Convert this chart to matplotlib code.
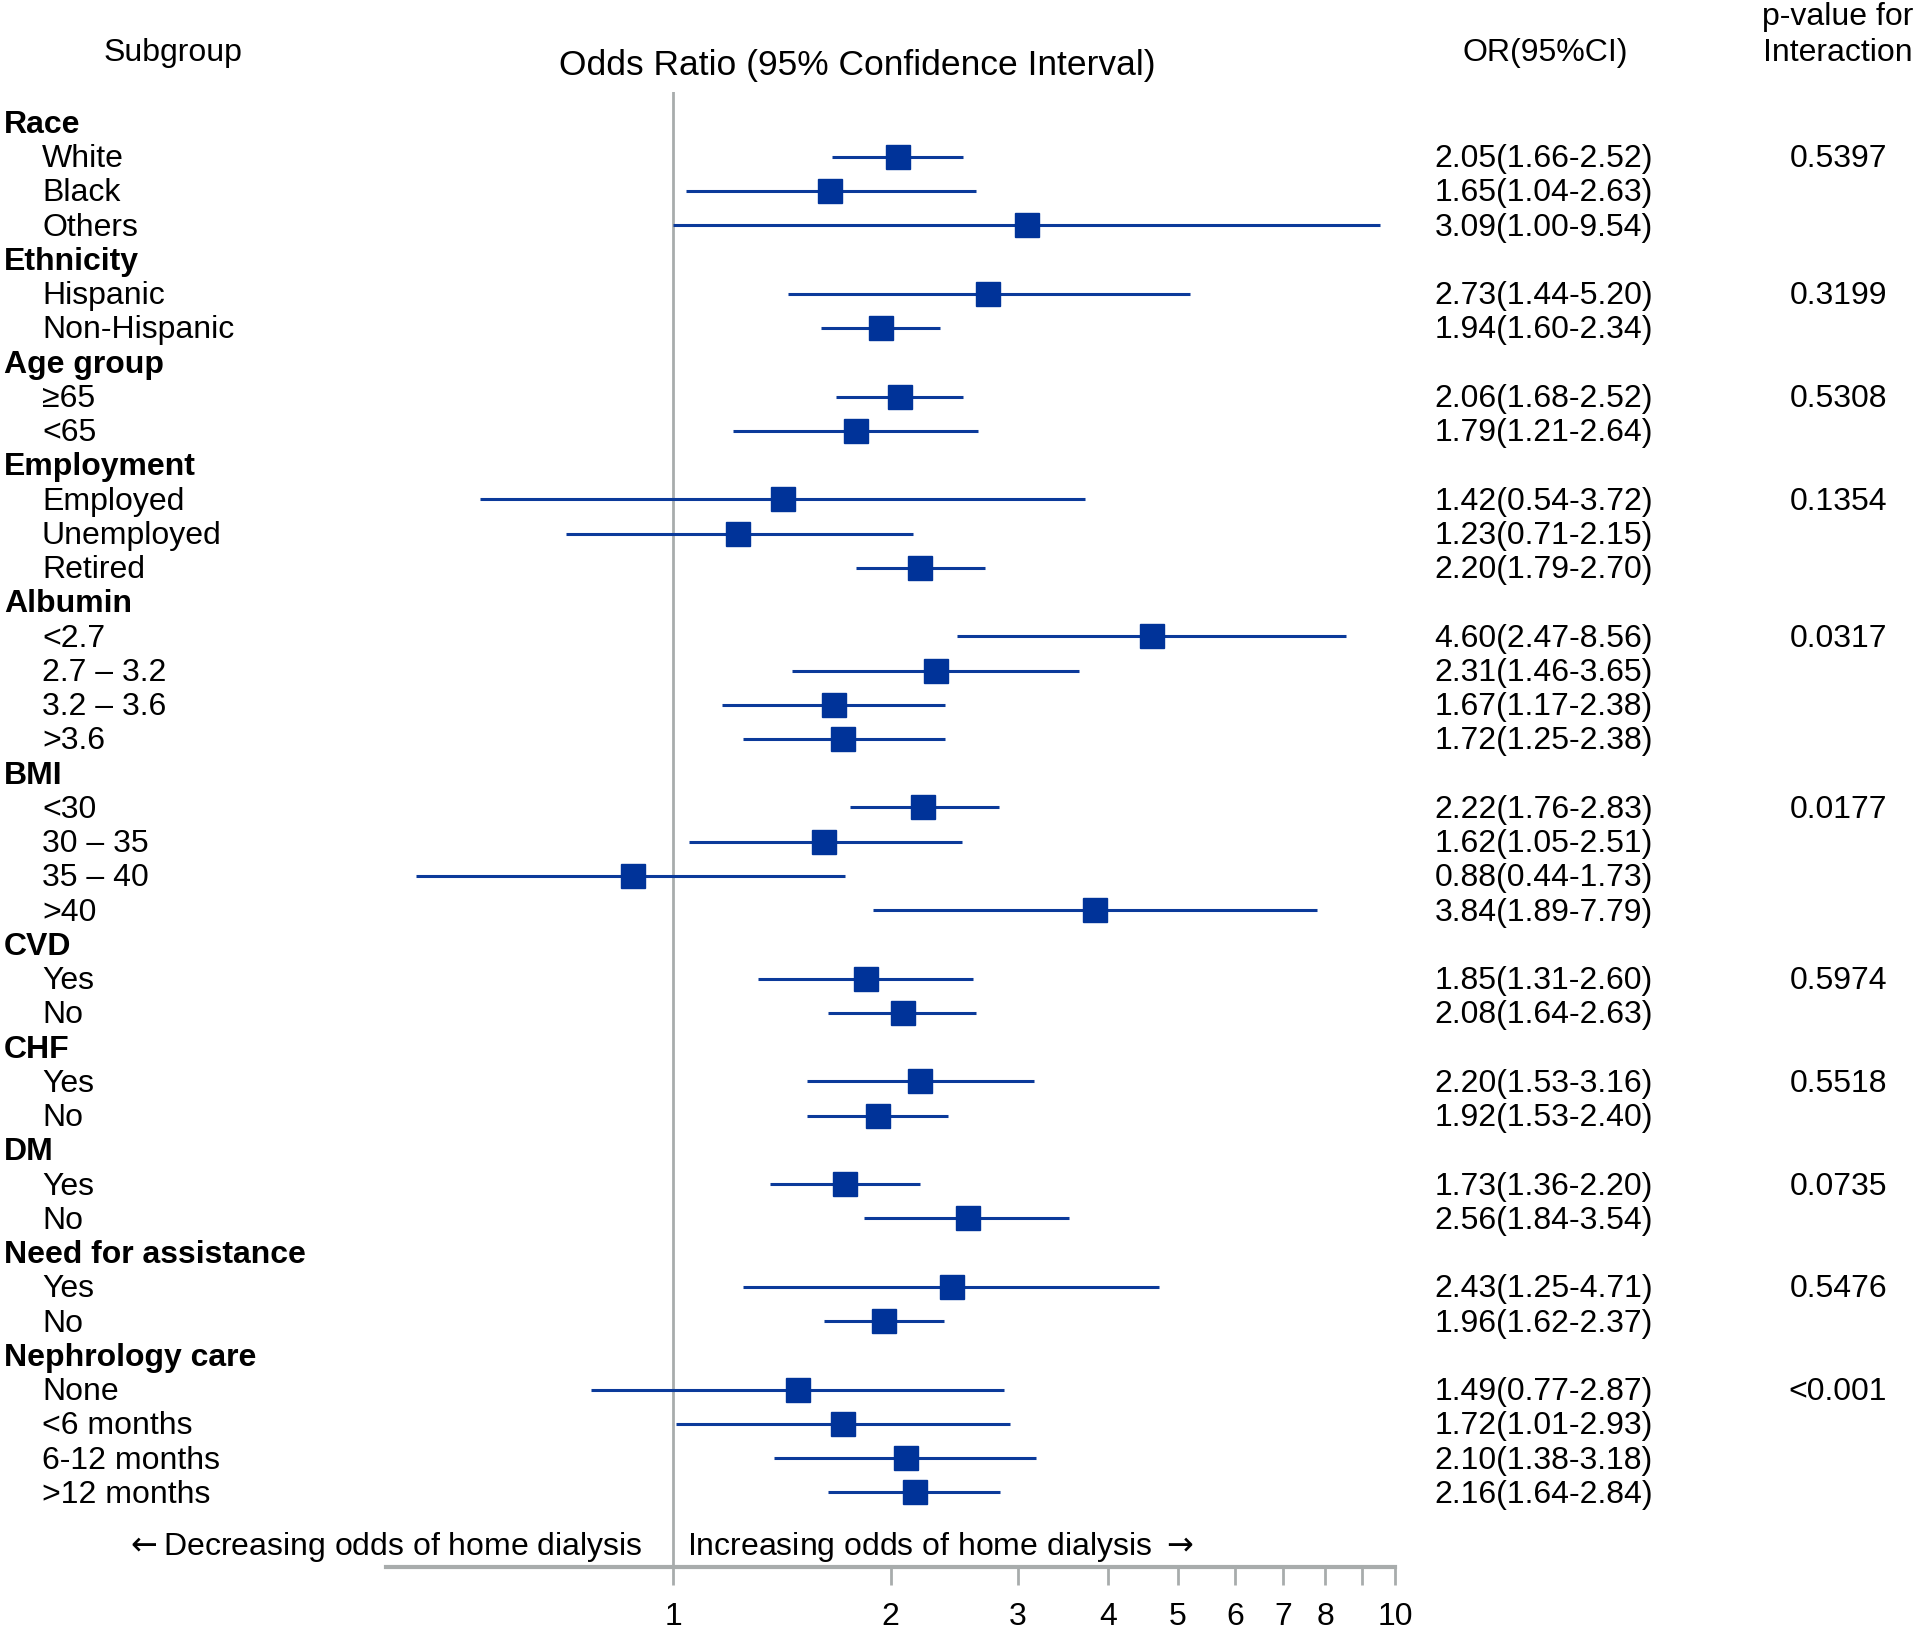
import numpy as np
import matplotlib.pyplot as plt
import matplotlib.transforms as mtransforms

plt.rcParams['font.family'] = ['Liberation Sans', 'DejaVu Sans']

# subgroup table
groups = ['Race', 'Ethnicity', 'Age group', 'Employment', 'Albumin', 'BMI',
          'CVD', 'CHF', 'DM', 'Need for assistance', 'Nephrology care']
subgroups = [['White', 'Black', 'Others'],
             ['Hispanic', 'Non-Hispanic'],
             ['\u226565', '<65'],
             ['Employed', 'Unemployed', 'Retired'],
             ['<2.7', '2.7 \u2013 3.2', '3.2 \u2013 3.6', '>3.6'],
             ['<30', '30 \u2013 35', '35 \u2013 40', '>40'],
             ['Yes', 'No'],
             ['Yes', 'No'],
             ['Yes', 'No'],
             ['Yes', 'No'],
             ['None', '<6 months', '6-12 months', '>12 months']]
odds = [2.05, 1.65, 3.09, 2.73, 1.94, 2.06, 1.79, 1.42, 1.23, 2.20,
        4.60, 2.31, 1.67, 1.72, 2.22, 1.62, 0.88, 3.84, 1.85, 2.08,
        2.20, 1.92, 1.73, 2.56, 2.43, 1.96, 1.49, 1.72, 2.10, 2.16]
ci_low = [1.66, 1.04, 1.00, 1.44, 1.60, 1.68, 1.21, 0.54, 0.71, 1.79,
          2.47, 1.46, 1.17, 1.25, 1.76, 1.05, 0.44, 1.89, 1.31, 1.64,
          1.53, 1.53, 1.36, 1.84, 1.25, 1.62, 0.77, 1.01, 1.38, 1.64]
ci_high = [2.52, 2.63, 9.54, 5.20, 2.34, 2.52, 2.64, 3.72, 2.15, 2.70,
           8.56, 3.65, 2.38, 2.38, 2.83, 2.51, 1.73, 7.79, 2.60, 2.63,
           3.16, 2.40, 2.20, 3.54, 4.71, 2.37, 2.87, 2.93, 3.18, 2.84]
p_interaction = ['0.5397', '0.3199', '0.5308', '0.1354', '0.0317', '0.0177',
                 '0.5974', '0.5518', '0.0735', '0.5476', '<0.001']
ticks = [1, 2, 3, 4, 5, 6, 7, 8, 9, 10]
tick_labels = ['1', '2', '3', '4', '5', '6', '7', '8', '', '10']

W, H = 1920, 1628
blue = '#0b3a9a'
grey = '#a8acac'
fs = 23
dy = 0.07  # small nudge so text sits level with the markers

fig = plt.figure(figsize=(W / 100, H / 100), dpi=100)
ax = fig.add_axes([386 / W, 1 - 1567 / H, (1395 - 386) / W, (1567 - 92) / H])
trans = mtransforms.blended_transform_factory(fig.transFigure, ax.transData)

# build the rows
row = 0
k = 0
ys = []
for g, subs, p in zip(groups, subgroups, p_interaction):
    fig.text(4 / W, row + dy, g, transform=trans, fontsize=fs, fontweight='bold',
             va='center', ha='left')
    row += 1
    for j, s in enumerate(subs):
        fig.text(42 / W, row + dy, s, transform=trans, fontsize=fs, va='center', ha='left')
        fig.text(1653 / W, row + dy, f'{odds[k]:.2f}({ci_low[k]:.2f}-{ci_high[k]:.2f})',
                 transform=trans, fontsize=fs, va='center', ha='right')
        if j == 0:
            fig.text(1887 / W, row + dy, p, transform=trans, fontsize=fs,
                     va='center', ha='right')
        ys.append(row)
        row += 1
        k += 1
ys = np.array(ys)

ax.hlines(ys, ci_low, ci_high, color=blue, lw=2.2, zorder=3)
ax.plot(odds, ys, 's', ms=17, color='#003399', zorder=4)
ax.axvline(1, color=grey, lw=2, zorder=1)

ax.set_xscale('log')
ax.set_xlim(0.4, 10)
ax.set_ylim(42.18, -0.894)
for s in ['top', 'right', 'left']:
    ax.spines[s].set_visible(False)
ax.spines['bottom'].set_color(grey)
ax.spines['bottom'].set_linewidth(3)
ax.set_yticks([])
ax.set_xticks(ticks)
ax.set_xticklabels(tick_labels)
ax.minorticks_off()
ax.tick_params(axis='x', which='major', length=13, width=2, color=grey,
               labelsize=fs, pad=12)
ax.patch.set_visible(False)

# headers
fig.text(173 / W, 1 - 53 / H, 'Subgroup', fontsize=fs, ha='center', va='center')
fig.text(857 / W, 1 - 65 / H, 'Odds Ratio (95% Confidence Interval)', fontsize=25.5,
         ha='center', va='center')
fig.text(1545 / W, 1 - 53 / H, 'OR(95%CI)', fontsize=fs, ha='center', va='center')
fig.text(1838 / W, 1 - 35 / H, 'p-value for\nInteraction', fontsize=fs,
         ha='center', va='center', linespacing=1.25)

fig.text(642 / W, 1 - 1547 / H, r'$\leftarrow$Decreasing odds of home dialysis',
         fontsize=fs, ha='right', va='center')
fig.text(687 / W, 1 - 1547 / H, r'Increasing odds of home dialysis $\rightarrow$',
         fontsize=fs, ha='left', va='center')

fig.savefig('out.png', dpi=100)
